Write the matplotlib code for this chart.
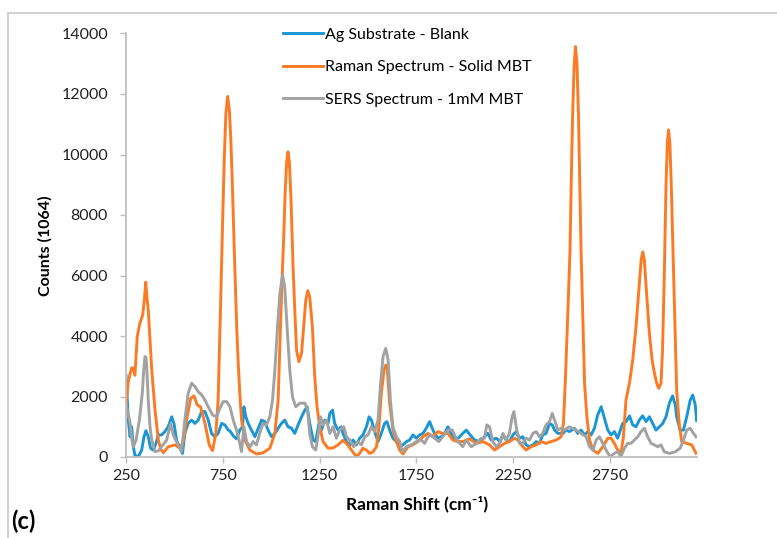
import matplotlib
matplotlib.use("Agg")
import matplotlib.pyplot as plt
from matplotlib.lines import Line2D

plt.rcParams['font.family'] = ['Lato', 'DejaVu Sans']

# ---- data ----
blank_x = [250, 262, 271, 279, 288, 296, 313, 331, 343, 353, 365, 377, 391, 405, 417, 434, 451, 468, 486, 498,
           511, 525, 542, 554, 571, 589, 606, 623, 641, 658, 675, 692, 709, 726, 744, 761, 778, 787, 804, 821,
           838, 852, 859, 869, 881, 898, 916, 933, 950, 967, 984, 1002, 1019, 1036, 1053, 1070, 1087, 1105,
           1122, 1139, 1157, 1174, 1186, 1199, 1217, 1230, 1247, 1260, 1277, 1294, 1303, 1317, 1328, 1345,
           1363, 1371, 1389, 1406, 1423, 1440, 1457, 1474, 1492, 1506, 1518, 1535, 1552, 1569, 1586, 1598,
           1612, 1629, 1647, 1664, 1681, 1699, 1715, 1733, 1750, 1767, 1784, 1801, 1819, 1832, 1844, 1861,
           1879, 1896, 1913, 1930, 1948, 1965, 1990, 2008, 2028, 2051, 2077, 2102, 2120, 2137, 2163, 2183,
           2197, 2214, 2231, 2249, 2266, 2283, 2300, 2317, 2335, 2352, 2369, 2386, 2403, 2420, 2438, 2452,
           2464, 2481, 2507, 2524, 2541, 2567, 2584, 2601, 2618, 2636, 2653, 2670, 2687, 2705, 2722, 2739,
           2756, 2773, 2790, 2816, 2834, 2851, 2868, 2885, 2902, 2919, 2937, 2954, 2971, 2988, 3006, 3023,
           3040, 3057, 3074, 3088, 3095, 3113, 3130, 3147, 3165, 3178, 3191, 3198]
blank_y = [2700, 1220, 670, 1000, 340, 60, 0, 230, 670, 870, 670, 290, 230, 450, 730, 730, 840, 1000, 1330, 1110,
           560, 340, 120, 780, 1110, 1220, 1110, 1220, 1500, 1500, 1220, 780, 670, 780, 1110, 1060, 890, 860, 700, 600,
           890, 1000, 1660, 1330, 1110, 890, 670, 950, 1220, 1170, 890, 670, 780, 950, 1110, 1220, 1000, 950,
           780, 1060, 1330, 1550, 1660, 1110, 560, 510, 1110, 890, 1220, 1110, 1440, 1550, 1110, 890,
           1000, 780, 510, 400, 560, 400, 620, 730, 1000, 1330, 1220, 840, 510, 780, 1110, 1170,
           890, 620, 510, 340, 400, 510, 560, 730, 620, 730, 780, 950, 1170, 950, 780, 620,
           670, 780, 1000, 780, 560, 620, 780, 890, 730, 560, 510, 670, 780, 560, 620, 510,
           730, 560, 510, 730, 840, 620, 670, 400, 340, 400, 510, 450, 730, 780, 1110, 1060,
           890, 780, 780, 890, 840, 950, 780, 890, 730, 840, 730, 950, 1390, 1660, 1280, 890,
           730, 840, 620, 1110, 1170, 1360, 1060, 1000, 1220, 1360, 1170, 1330, 1110, 890, 1000, 1110,
           1330, 1780, 2020, 1720, 1330, 890, 890, 1330, 1880, 2050, 1720, 1200]

solid_x = [250, 262, 271, 280, 288, 296, 308, 322, 336, 345, 352, 358, 365, 374, 383, 400, 417, 430, 443, 468,
           503, 529, 546, 563, 584, 601, 618, 635, 658, 680, 697, 714, 726, 738, 744, 750, 758, 766, 775, 784,
           792, 800, 812, 822, 829, 838, 847, 864, 890, 924, 958, 993, 1019, 1036, 1048, 1057, 1065, 1072, 1080,
           1087, 1094, 1102, 1108, 1113, 1122, 1131, 1143, 1157, 1168, 1179, 1189, 1199, 1213, 1225, 1237, 1251,
           1268, 1294, 1320, 1345, 1371, 1389, 1415, 1440, 1457, 1474, 1492, 1509, 1526, 1544, 1557, 1569, 1583,
           1592, 1600, 1612, 1629, 1647, 1664, 1681, 1707, 1732, 1758, 1784, 1810, 1836, 1861, 1887, 1913, 1939,
           1965, 1990, 2025, 2060, 2094, 2128, 2154, 2180, 2206, 2231, 2257, 2274, 2300, 2317, 2343, 2369, 2395,
           2420, 2446, 2472, 2498, 2510, 2520, 2532, 2544, 2550, 2557, 2565, 2572, 2580, 2588, 2595, 2601, 2610,
           2619, 2631, 2645, 2662, 2688, 2713, 2739, 2756, 2773, 2790, 2807, 2820, 2833, 2851, 2868, 2885, 2902,
           2912, 2920, 2928, 2936, 2954, 2968, 2980, 2992, 3002, 3014, 3022, 3031, 3040, 3047, 3053, 3060, 3067,
           3078, 3087, 3095, 3108, 3121, 3147, 3173, 3195]
solid_y = [1700, 2500, 2750, 2950, 2930, 2700, 3980, 4430, 4690, 5200, 5780, 5300, 4860, 3900, 2880, 1550, 560, 250, 140, 340,
           400, 290, 510, 1220, 1940, 2020, 1720, 1660, 1110, 400, 210, 780, 1880, 4860, 6500, 8000, 9900, 11350, 11920, 11470,
           10430, 8900, 6300, 4300, 3210, 2100, 1220, 560, 230, 100, 140, 290, 780, 1880, 4310, 6000, 7300, 8700, 9750,
           10090, 9750, 8600, 7300, 6300, 4860, 3540, 3150, 3430, 4310, 5190, 5500, 5300, 4310, 2650, 1660, 1000,
           510, 290, 300, 400, 550, 450, 230, 10, 120, 290, 230, 120, 170, 340, 1000, 2100, 2880,
           3040, 2880, 1780, 890, 510, 230, 100, 340, 400, 510, 670, 780, 670, 840, 780, 780, 560,
           510, 510, 600, 450, 510, 400, 230, 340, 450, 510, 620, 560, 340, 230, 340, 400, 510,
           450, 510, 560, 670, 1110, 2550, 4640, 6840, 9000, 11200, 12900, 13570, 13000, 11200, 8800, 6840, 4640,
           2440, 1330, 560, 230, 120, 340, 620, 620, 450, 230, 120, 670, 1880, 2440, 3210, 4310, 5740,
           6550, 6780, 6500, 5740, 4090, 3210, 2770, 2440, 2270, 2440, 3540, 6000, 9000, 10400, 10810, 10350, 9000,
           6300, 4000, 2200, 1110, 510, 450, 400, 120]

sers_x = [250, 262, 271, 280, 288, 302, 319, 334, 342, 348, 353, 357, 365, 374, 383, 400, 417, 434, 460, 481,
          494, 511, 528, 537, 554, 571, 589, 606, 623, 641, 658, 675, 697, 718, 735, 752, 770, 787, 804, 821,
          834, 847, 859, 873, 890, 907, 924, 941, 958, 976, 993, 1007, 1019, 1033, 1045, 1059, 1070, 1082, 1096,
          1110, 1127, 1148, 1174, 1188, 1199, 1213, 1230, 1244, 1255, 1268, 1286, 1303, 1320, 1337, 1354, 1375,
          1389, 1406, 1426, 1449, 1466, 1483, 1500, 1518, 1535, 1552, 1564, 1578, 1592, 1604, 1616, 1629, 1647,
          1664, 1678, 1699, 1724, 1750, 1776, 1793, 1810, 1827, 1844, 1866, 1887, 1913, 1936, 1956, 1965, 1990,
          2008, 2034, 2060, 2085, 2102, 2114, 2128, 2145, 2163, 2180, 2197, 2214, 2231, 2245, 2254, 2266, 2283,
          2300, 2317, 2335, 2352, 2369, 2386, 2403, 2420, 2438, 2452, 2464, 2481, 2498, 2515, 2541, 2575, 2601,
          2627, 2645, 2662, 2679, 2696, 2713, 2730, 2751, 2773, 2790, 2807, 2825, 2842, 2859, 2876, 2894, 2911,
          2928, 2945, 2963, 2980, 2997, 3014, 3031, 3057, 3087, 3113, 3130, 3147, 3165, 3182, 3195]
sers_y = [1750, 1400, 1110, 600, 340, 560, 1220, 2100, 2900, 3320, 3300, 2990, 1880, 1000, 560, 180, 200, 340, 560, 1110,
          730, 510, 300, 180, 1220, 2100, 2440, 2330, 2160, 2050, 1880, 1660, 1390, 1330, 1610, 1830, 1830, 1660, 1220, 890,
          560, 180, 1000, 510, 340, 510, 400, 780, 1110, 1060, 1330, 1880, 2880, 4310, 5410, 6020, 5630, 4310, 2880,
          1990, 1660, 1780, 1780, 1550, 780, 340, 230, 780, 1330, 1060, 1220, 780, 1000, 620, 890, 1000,
          670, 560, 340, 510, 400, 670, 730, 1000, 840, 1220, 2330, 3320, 3590, 3210, 1880, 1000, 670,
          510, 180, 340, 400, 510, 560, 450, 670, 730, 620, 510, 670, 890, 890, 600, 510, 340,
          560, 340, 450, 620, 620, 1060, 1000, 510, 340, 450, 780, 560, 780, 1330, 1500, 1000, 450,
          450, 620, 560, 780, 840, 670, 780, 1060, 1170, 1440, 1220, 890, 950, 890, 1000, 890, 780,
          670, 340, 230, 560, 670, 450, 230, 10, 120, 180, 10, 290, 450, 450, 560, 670, 840,
          950, 670, 450, 400, 340, 400, 170, 120, 170, 290, 560, 890, 950, 780, 670]

labels = ["Ag Substrate - Blank", "Raman Spectrum - Solid MBT", "SERS Spectrum - 1mM MBT"]
colors = ["#1a96d4", "#fb7b25", "#a2a2a2"]
x_ticks = [250, 750, 1250, 1750, 2250, 2750]
y_ticks = [0, 2000, 4000, 6000, 8000, 10000, 12000, 14000]

# ---- figure ----
W, H = 777, 538
fig = plt.figure(figsize=(W / 100, H / 100), dpi=100)
ax = fig.add_axes([126 / W, 1 - 457 / H, (697 - 126) / W, (457 - 33.5) / H])

lw = 2.1
ax.plot(blank_x, blank_y, color=colors[0], lw=lw, label=labels[0], solid_joinstyle='round')
ax.plot(solid_x, solid_y, color=colors[1], lw=lw, label=labels[1], solid_joinstyle='round')
ax.plot(sers_x, sers_y, color=colors[2], lw=lw, label=labels[2], solid_joinstyle='round')

ax.set_xlim(250, 3200)
ax.set_ylim(0, 14000)
ax.set_xticks(x_ticks)
ax.set_yticks(y_ticks)
ax.set_xticklabels([str(v) for v in x_ticks])
ax.set_yticklabels([str(v) for v in y_ticks])

for s in ['top', 'right']:
    ax.spines[s].set_visible(False)
for s in ['left', 'bottom']:
    ax.spines[s].set_color('#bfbfbf')
    ax.spines[s].set_linewidth(1.3)
ax.tick_params(axis='both', direction='out', length=4, width=1.0, color='#bfbfbf',
               labelsize=11.5, labelcolor='#222222')
ax.tick_params(axis='y', pad=9)
ax.tick_params(axis='x', pad=5)

ax.set_ylabel("Counts (1064)", fontsize=11.5, fontweight='bold')
ax.yaxis.set_label_coords(-0.128, 0.5)
ax.set_xlabel("Raman Shift (cm\u207b\u00b9)", fontsize=12.5, fontweight='bold')
ax.xaxis.set_label_coords(0.51, -0.092)

leg = ax.legend(loc='upper left', bbox_to_anchor=(276.6 / W, 1 - 21 / H), bbox_transform=fig.transFigure,
                frameon=False, fontsize=11.5, handlelength=2.5, handletextpad=0.15,
                labelspacing=1.16, borderaxespad=0)

fig.text(11 / W, 1 - 521 / H, "(c)", fontsize=17, fontweight='bold', ha='left', va='center')

# chart-area border (top and left edges visible)
fig.add_artist(Line2D([8 / W, 1.0], [1 - 13 / H, 1 - 13 / H], transform=fig.transFigure,
                      color='#c8c8c8', lw=1.2))
fig.add_artist(Line2D([8 / W, 8 / W], [1 - 13 / H, 0.0], transform=fig.transFigure,
                      color='#c8c8c8', lw=1.2))

fig.savefig("out.png", dpi=100)
